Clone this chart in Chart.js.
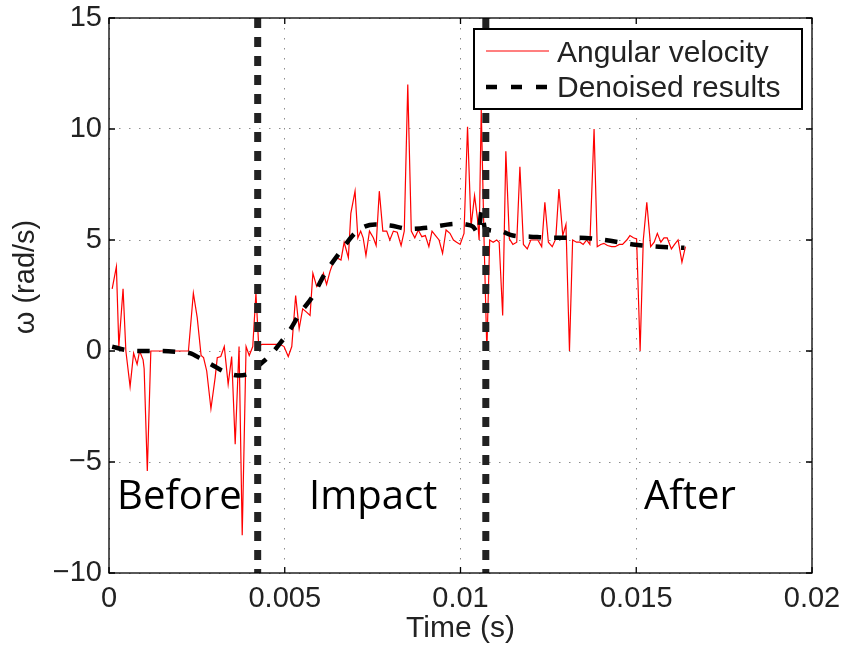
<!DOCTYPE html>
<html>
<head>
<meta charset="utf-8">
<script src="https://cdn.jsdelivr.net/npm/chart.js@4.4.0/dist/chart.umd.min.js"></script>
<style>
  html, body { margin: 0; padding: 0; background: #fff; }
  #wrap { width: 844px; height: 645px; }
</style>
</head>
<body>
<div id="wrap"><canvas id="chart" width="844" height="645"></canvas></div>
<script>
// measured angular velocity (red line)
const velTime = [
  0.00009, 0.00021, 0.00028, 0.0004, 0.00048, 0.0006, 0.0007, 0.0008, 0.00087, 0.00097,
  0.001, 0.00109, 0.00119, 0.00159, 0.00196, 0.00226, 0.0024, 0.00251, 0.00262, 0.00269,
  0.00278, 0.0029, 0.00302, 0.00308, 0.00318, 0.00328, 0.00339, 0.00349, 0.00359, 0.0037,
  0.00379, 0.0039, 0.00399, 0.00409, 0.00418, 0.00426, 0.00435, 0.00458, 0.00486, 0.00498,
  0.0051, 0.0052, 0.00531, 0.00541, 0.00551, 0.00562, 0.00572, 0.0058, 0.00591, 0.00603,
  0.0061, 0.00619, 0.00629, 0.00638, 0.00648, 0.0066, 0.00669, 0.00681, 0.00688, 0.007,
  0.00708, 0.00716, 0.00723, 0.00731, 0.00741, 0.00752, 0.0076, 0.00769, 0.00779, 0.0079,
  0.00799, 0.00809, 0.0082, 0.00831, 0.0084, 0.0085, 0.0086, 0.0087, 0.0088, 0.0089,
  0.009, 0.0091, 0.00919, 0.00929, 0.00939, 0.00949, 0.00959, 0.0097, 0.0098, 0.00989,
  0.00999, 0.0101, 0.0102, 0.0103, 0.0104, 0.01048, 0.01053, 0.01059, 0.01067, 0.01075,
  0.01083, 0.01093, 0.01103, 0.0111, 0.0112, 0.01129, 0.01139, 0.01149, 0.0116, 0.01169,
  0.01179, 0.0119, 0.012, 0.0121, 0.0122, 0.01231, 0.0124, 0.0125, 0.01261, 0.01271,
  0.0128, 0.01291, 0.013, 0.0131, 0.01319, 0.0133, 0.0134, 0.01349, 0.01359, 0.01368,
  0.0138, 0.01389, 0.01399, 0.01408, 0.01418, 0.0143, 0.0144, 0.01452, 0.01461, 0.01473,
  0.01482, 0.01492, 0.01501, 0.01511, 0.0152, 0.0153, 0.01541, 0.01551, 0.0156, 0.0157,
  0.01579, 0.01588, 0.016, 0.01609, 0.01619, 0.0163, 0.0164
];
const velOmega = [
  2.8, 3.8, 0.2, 2.8, 0, -1.6, -0.1, -0.6, 0, -0.4,
  -0.8, -5.4, 0, 0, 0, 0, 2.6, 1.5, -0.2, -0.3,
  -0.9, -2.6, -1.2, -0.3, -0.25, 0.2, -1.5, -0.25, -4.2, 0.2,
  -8.3, 0.2, -0.2, 0.2, 2.6, 0.2, 0.3, 0.3, 0.3, 0.2,
  -0.25, 0.2, 2.5, 1.0, 1.9, 1.75, 1.6, 3.5, 2.9, 3.1,
  3.5, 3.0, 3.6, 4.0, 4.2, 4.1, 4.9, 4.2, 6.2, 7.2,
  5.1, 5.4, 5.1, 4.3, 5.4, 5.1, 4.75, 7.2, 5.4, 5.4,
  5.0, 5.4, 5.35, 4.75, 5.4, 12.0, 5.4, 5.1, 5.45, 5.15,
  5.2, 4.7, 5.4, 5.2, 5.0, 4.4, 5.45, 5.3, 5.0, 4.9,
  4.8, 5.3, 10.1, 5.6, 7.0, 6.0, 5.0, 10.9, 5.0, 0,
  5.0, 4.9, 5.0, 4.9, 1.6, 9.0, 5.05, 4.8, 4.9, 8.3,
  4.8, 4.6, 5.0, 5.0, 5.0, 4.7, 6.7, 4.9, 4.7, 5.05,
  7.3, 5.2, 5.7, 0, 5.0, 4.9, 4.9, 4.8, 5.0, 4.8,
  10.0, 4.7, 4.8, 4.85, 4.75, 4.7, 4.7, 4.8, 4.8, 5.0,
  5.2, 5.1, 5.05, 0, 5.0, 6.7, 4.7, 4.9, 5.3, 4.9,
  5.1, 5.1, 4.6, 4.8, 5.0, 4.0, 4.7
];

// denoised result (black dashed)
const denTime = [
  0.00009, 0.00046, 0.00088, 0.00145, 0.00202, 0.0023, 0.00262, 0.00296, 0.00324, 0.00367,
  0.00401, 0.0043, 0.00458, 0.00486, 0.00515, 0.00543, 0.00577, 0.00615, 0.00657, 0.00706,
  0.00757, 0.008, 0.00856, 0.00905, 0.0099, 0.01016, 0.01036, 0.01051, 0.0106, 0.0107,
  0.01112, 0.01149, 0.01198, 0.01263, 0.0134, 0.01411, 0.01491, 0.01565, 0.01637
];
const denOmega = [
  0.2, 0.05, 0, 0, -0.05, -0.1, -0.35, -0.65, -0.9, -1.1,
  -1.0, -0.6, -0.2, 0.33, 0.95, 1.7, 2.4, 3.5, 4.45, 5.4,
  5.7, 5.65, 5.5, 5.55, 5.73, 5.7, 5.6, 5.3, 6.3, 5.5,
  5.4, 5.2, 5.15, 5.1, 5.1, 5.0, 4.8, 4.7, 4.65
];

// phase borders and names
const phaseBorders = [0.00423, 0.01072];
const phaseNames = ['Before', 'Impact', 'After'];
const phaseNameTime = [0.00023, 0.00569, 0.01522];
const phaseNameOmega = -7.1;

// axes
const xTicks = [0, 0.005, 0.01, 0.015, 0.02];
const yTicks = [-10, -5, 0, 5, 10, 15];
const xTitle = 'Time (s)';
const yTitle = 'ω (rad/s)';
const seriesNames = ['Angular velocity', 'Denoised results'];

const FONT = '"Liberation Sans", Arial, Helvetica, sans-serif';
const yMin = yTicks[0], yMax = yTicks[yTicks.length - 1];

function fmt(v) {
  return v < 0 ? '\u2212' + Math.abs(v) : String(v);
}

const pairs = (xs, ys) => xs.map((t, i) => ({ x: t, y: ys[i] }));

const dividerSets = phaseBorders.map(t => ({
  label: 'border',
  data: [{ x: t, y: yMax }, { x: t, y: yMin }],
  borderColor: '#222',
  borderWidth: 7,
  borderDash: [10, 9],
  pointRadius: 0,
  order: 0
}));

// frame, inward ticks, phase names, y title and legend
const decoPlugin = {
  id: 'deco',
  afterDatasetsDraw(chart) {
    const { ctx, chartArea: a, scales: { x, y } } = chart;
    ctx.save();
    ctx.fillStyle = '#000';
    ctx.font = '40px "Open Sans", sans-serif';
    ctx.textBaseline = 'alphabetic';
    ctx.textAlign = 'left';
    phaseNames.forEach((name, i) => {
      ctx.fillText(name, x.getPixelForValue(phaseNameTime[i]), y.getPixelForValue(phaseNameOmega));
    });

    ctx.strokeStyle = '#000';
    ctx.lineWidth = 1.3;
    ctx.strokeRect(a.left, a.top, a.right - a.left, a.bottom - a.top);
    ctx.beginPath();
    x.ticks.forEach(t => {
      const px = x.getPixelForValue(t.value);
      ctx.moveTo(px, a.bottom); ctx.lineTo(px, a.bottom - 6);
      ctx.moveTo(px, a.top); ctx.lineTo(px, a.top + 6);
    });
    y.ticks.forEach(t => {
      const py = y.getPixelForValue(t.value);
      ctx.moveTo(a.left, py); ctx.lineTo(a.left + 6, py);
      ctx.moveTo(a.right, py); ctx.lineTo(a.right - 6, py);
    });
    ctx.stroke();

    // y axis title
    ctx.translate(26, 277);
    ctx.rotate(-Math.PI / 2);
    ctx.font = '29px ' + FONT;
    ctx.fillStyle = '#222';
    ctx.textAlign = 'center';
    ctx.textBaseline = 'middle';
    ctx.fillText(yTitle, 0, 0);
    ctx.restore();
  },
  afterDraw(chart) {
    const { ctx, chartArea: a } = chart;
    const lx = a.right - 338, ly = a.top + 11, lw = 328, lh = 80;
    ctx.save();
    ctx.fillStyle = '#fff';
    ctx.fillRect(lx, ly, lw, lh);
    ctx.strokeStyle = '#000';
    ctx.lineWidth = 2;
    ctx.strokeRect(lx, ly, lw, lh);

    ctx.beginPath();
    ctx.strokeStyle = '#ff0000';
    ctx.lineWidth = 1.2;
    ctx.moveTo(lx + 12, ly + 22); ctx.lineTo(lx + 75, ly + 22);
    ctx.stroke();

    ctx.beginPath();
    ctx.strokeStyle = '#000';
    ctx.lineWidth = 4.5;
    ctx.setLineDash([11, 14]);
    ctx.moveTo(lx + 12, ly + 58); ctx.lineTo(lx + 76, ly + 58);
    ctx.stroke();
    ctx.setLineDash([]);

    ctx.fillStyle = '#222';
    ctx.font = '30px ' + FONT;
    ctx.textAlign = 'left';
    ctx.textBaseline = 'alphabetic';
    ctx.fillText(seriesNames[0], lx + 83, ly + 33);
    ctx.fillText(seriesNames[1], lx + 83, ly + 68);
    ctx.restore();
  }
};

new Chart(document.getElementById('chart'), {
  type: 'line',
  data: {
    datasets: [
      ...dividerSets,
      {
        label: seriesNames[1],
        data: pairs(denTime, denOmega),
        borderColor: '#000',
        borderWidth: 4.5,
        borderDash: [12.5, 13],
        pointRadius: 0,
        cubicInterpolationMode: 'monotone',
        order: 1
      },
      {
        label: seriesNames[0],
        data: pairs(velTime, velOmega),
        borderColor: '#ff0000',
        borderWidth: 1.2,
        pointRadius: 0,
        tension: 0,
        order: 2
      }
    ]
  },
  options: {
    responsive: false,
    animation: false,
    events: [],
    layout: { padding: { top: 18, right: 32, left: 0, bottom: 0 } },
    plugins: { legend: { display: false }, tooltip: { enabled: false } },
    scales: {
      x: {
        type: 'linear',
        min: xTicks[0],
        max: xTicks[xTicks.length - 1],
        afterBuildTicks: s => { s.ticks = xTicks.map(v => ({ value: v })); },
        afterFit: s => { s.height = 72; s.paddingLeft = 0; s.paddingRight = 0; },
        grid: { color: '#8c8c8c', lineWidth: 1, drawTicks: false },
        border: { display: false, dash: [1.5, 8.5] },
        ticks: {
          padding: 9,
          color: '#222',
          maxRotation: 0,
          font: { family: FONT, size: 29 },
          callback: v => fmt(v)
        },
        title: {
          display: true,
          text: xTitle,
          color: '#222',
          font: { family: FONT, size: 30, lineHeight: 1 },
          padding: { top: 0, bottom: 1 }
        }
      },
      y: {
        type: 'linear',
        min: yMin,
        max: yMax,
        afterBuildTicks: s => { s.ticks = yTicks.map(v => ({ value: v })); },
        afterFit: s => { s.width = 109; s.paddingTop = 0; s.paddingBottom = 0; },
        grid: { color: '#8c8c8c', lineWidth: 1, drawTicks: false },
        border: { display: false, dash: [1.5, 8.5] },
        ticks: {
          padding: 7,
          color: '#222',
          font: { family: FONT, size: 29 },
          callback: v => fmt(v)
        }
      }
    }
  },
  plugins: [decoPlugin]
});
</script>
</body>
</html>
